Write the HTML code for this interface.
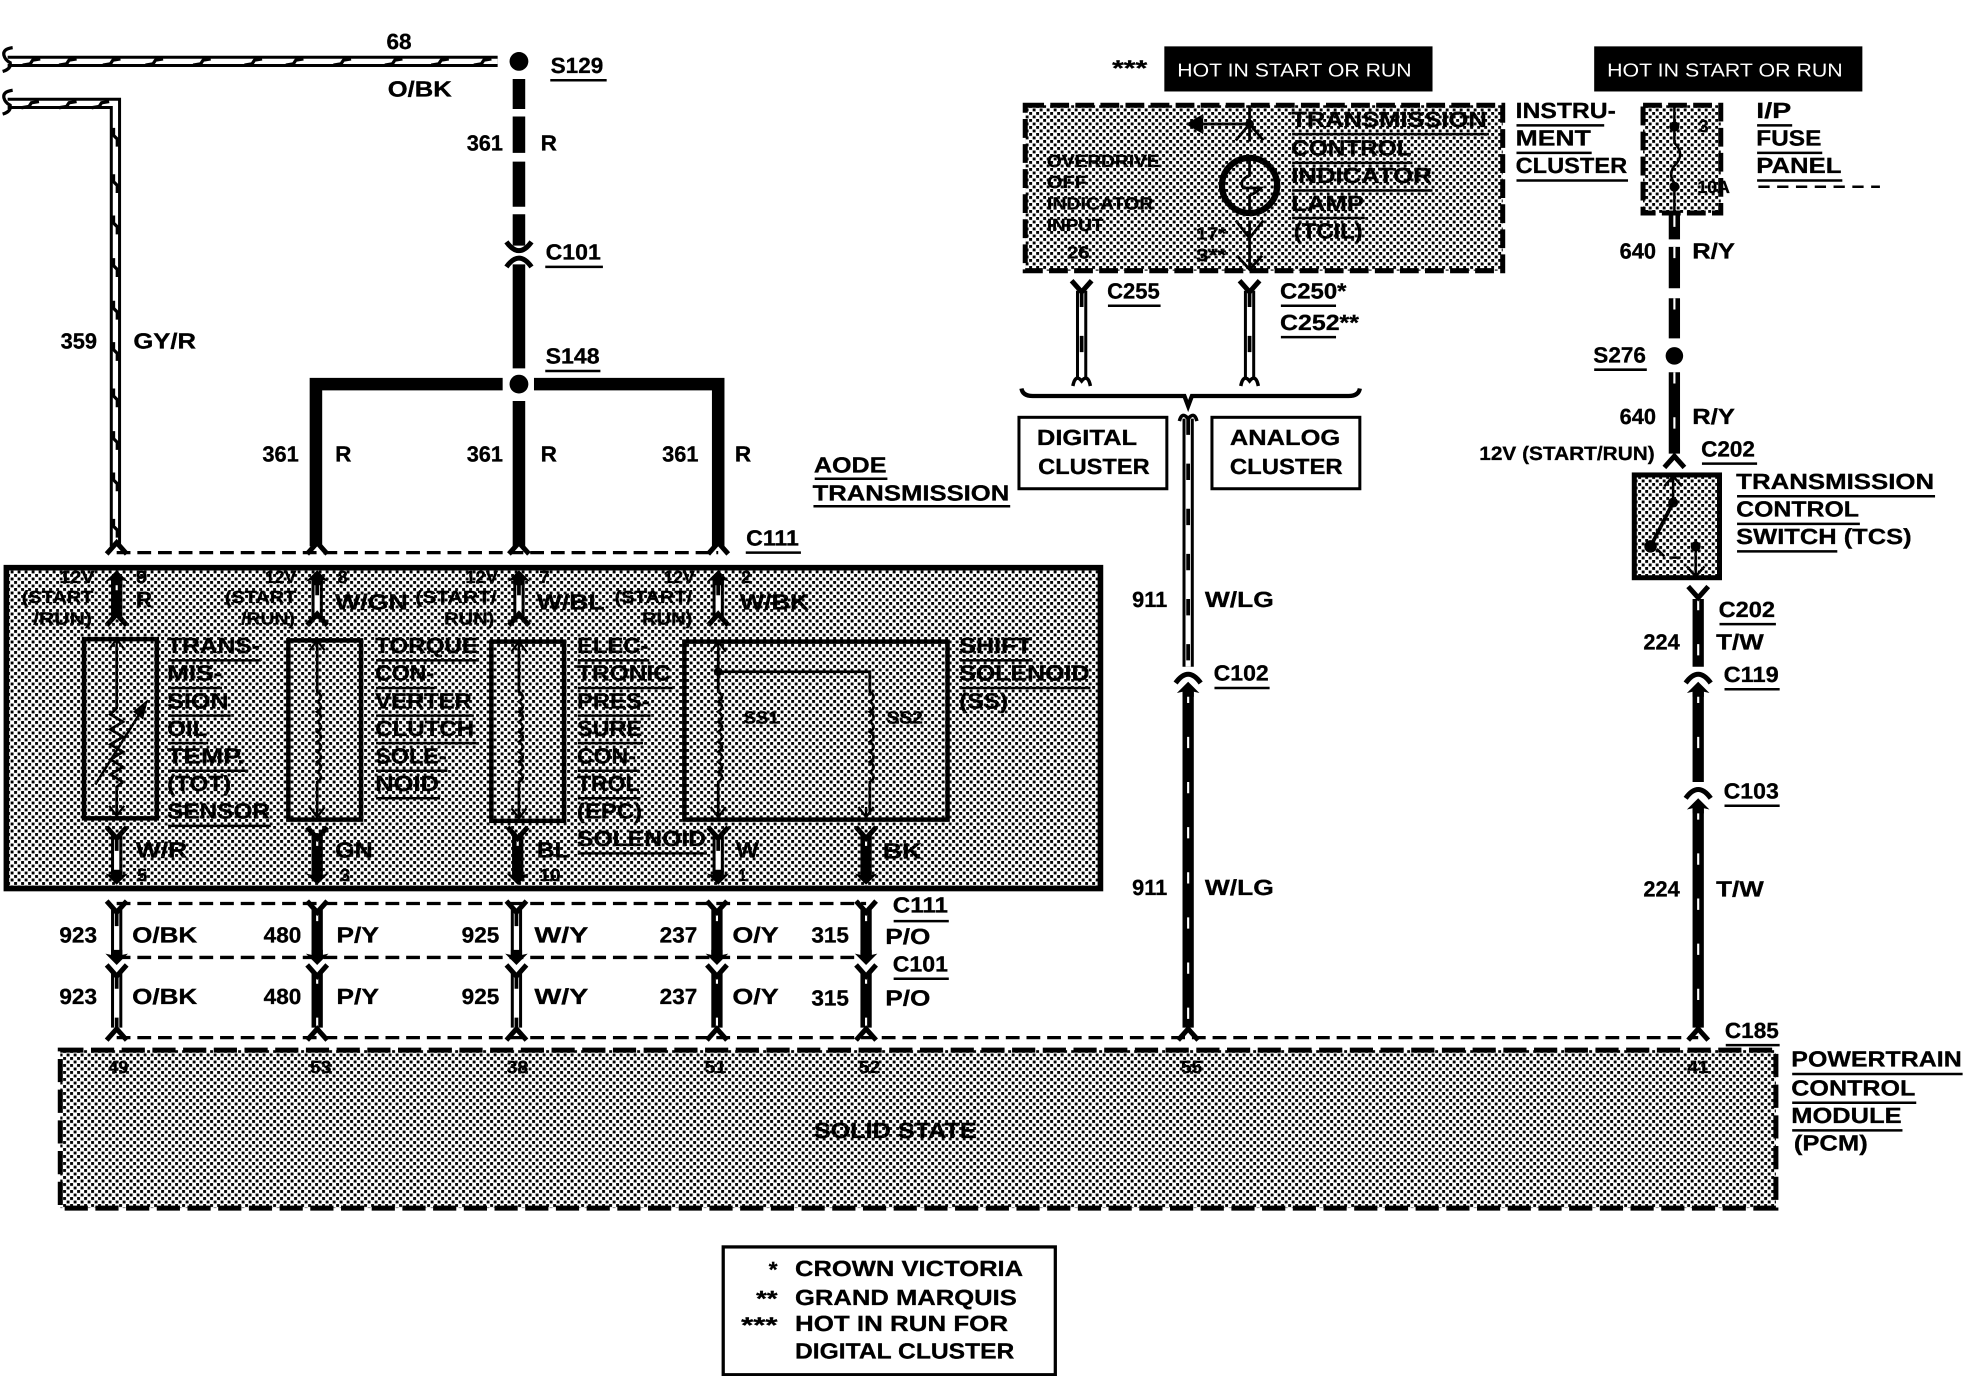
<!DOCTYPE html>
<html><head><meta charset="utf-8"><style>
html,body{margin:0;padding:0;background:#fff}
svg{display:block}
text{font-family:"Liberation Sans",sans-serif;font-weight:700;font-size:17.5px;fill:#000;stroke:#000;stroke-width:.25;transform:translate(-.7px,-.8px)}
.s{font-size:14px}
.m{font-size:15.5px}
.n{font-weight:400;font-size:15px;fill:#fff;stroke:none}
.l{fill:none;stroke:#000;stroke-width:2}
.c{fill:none;stroke:#000;stroke-width:2.2}
.b{fill:none;stroke:#000}
.o{fill:none;stroke:#000;stroke-width:9}
.i{fill:none;stroke:#fff;stroke-width:4.2}
.t{fill:none;stroke:#000;stroke-width:3;stroke-dasharray:13 23}
.k{fill:none;stroke:#000;stroke-width:9}
.w{fill:none;stroke:#fff;stroke-width:1.7;stroke-dasharray:9 27}
</style></head><body>
<svg xmlns="http://www.w3.org/2000/svg" width="1964" height="1376" viewBox="0 0 1567 1098" text-rendering="geometricPrecision">
<defs>
<pattern id="st" patternUnits="userSpaceOnUse" width="7" height="7" patternTransform="scale(0.798)">
<rect width="7" height="7" fill="#fff"/><rect x="0" y="0" width="2.9" height="2.9" fill="#000"/><rect x="3.5" y="3.5" width="2.9" height="2.9" fill="#000"/>
</pattern>
<path id="fd" d="M-8,8 L0,-1 L8,8" fill="none" stroke="#000" stroke-width="4"/>
<path id="fu" d="M-8,-8 L0,1 L8,-8" fill="none" stroke="#000" stroke-width="4"/>
<path id="cd" d="M-10,-5 Q0,9 10,-5" fill="none" stroke="#000" stroke-width="4"/>
<path id="cu" d="M-10,5 Q0,-9 10,5" fill="none" stroke="#000" stroke-width="4"/>
<path id="au" d="M-9,9 L0,0 L9,9 L4.500,8 L4.500,12 L-4.500,12 L-4.500,8Z" fill="#000"/>
<path id="ad" d="M-9,-9 L0,0 L9,-9 L4.500,-8 L4.500,-12 L-4.500,-12 L-4.500,-8Z" fill="#000"/>
<path id="tu" d="M-6,8 L0,0 L6,8 M0,0 V8" fill="none" stroke="#000" stroke-width="1.8"/>
<path id="td" d="M-6,-8 L0,0 L6,-8 M0,0 V-8" fill="none" stroke="#000" stroke-width="1.8"/>
<path id="longWires" d="M6 49H397 M6 82.5H92V436"/>
<path id="whiteWires" d="M253 462V492 M414 462V492 M573 462V492 M93 666V696 M573 666V696 M93 726V764 M412 726V764 M93 776V820 M412 776V820 M863 232V302 M997 232V302 M948 334V532"/>
<path id="blackTicks" d="M93 462V492 M253 666V696 M413 666V696 M691 666V696 M253 726V764 M572 726V764 M691 726V764 M253 776V820 M572 776V820 M691 776V820 M948 552V820 M1355 478V532 M1355 552V624 M1355 645V820 M1336 172V191 M1336 197V230 M1336 238V270 M1336 297V362"/>
</defs>
<rect width="1567" height="1098" fill="#fff"/>

<!-- shaded boxes -->
<rect x="5" y="453" width="873" height="256" fill="url(#st)" stroke="#000" stroke-width="4.5"/>
<rect x="48" y="838" width="1369" height="126" fill="url(#st)"/>
<rect x="48" y="838" width="1369" height="126" fill="none" stroke="#000" stroke-width="4" stroke-dasharray="18.5 6"/>
<rect x="818" y="84" width="381" height="132" fill="url(#st)"/>
<rect x="818" y="84" width="381" height="132" fill="none" stroke="#000" stroke-width="4" stroke-dasharray="15 5"/>
<rect x="1311" y="84" width="62" height="86" fill="url(#st)"/>
<rect x="1311" y="84" width="62" height="86" fill="none" stroke="#000" stroke-width="4" stroke-dasharray="15 5"/>
<rect x="1304" y="379" width="68" height="82" fill="url(#st)" stroke="#000" stroke-width="4"/>

<!-- inner component boxes -->
<g class="b" stroke-width="3.6">
<rect x="67" y="510" width="58" height="143"/>
<rect x="230" y="511" width="58" height="143"/>
<rect x="392" y="512" width="58" height="143"/>
<rect x="546" y="512" width="210" height="142"/>
</g>

<!-- plain boxes -->
<rect x="813" y="333" width="118" height="57" fill="#fff" stroke="#000" stroke-width="2.4"/>
<rect x="967" y="333" width="118" height="57" fill="#fff" stroke="#000" stroke-width="2.4"/>
<rect x="577" y="995" width="265" height="102" fill="#fff" stroke="#000" stroke-width="2.6"/>
<rect x="929" y="37" width="214" height="36" fill="#000"/>
<rect x="1272" y="37" width="214" height="36" fill="#000"/>

<!-- white / striped wires -->
<use href="#longWires" class="o"/>
<use href="#longWires" class="i"/>
<path class="b" stroke-width="2.6" d="M18 52l6 -1 2 -3 6 -1 M47 52l6 -1 2 -3 6 -1 M82 52l6 -1 2 -3 6 -1 M116 52l6 -1 2 -3 6 -1 M154 52l6 -1 2 -3 6 -1 M195 52l6 -1 2 -3 6 -1 M228 52l6 -1 2 -3 6 -1 M266 52l6 -1 2 -3 6 -1 M307 52l6 -1 2 -3 6 -1 M344 52l6 -1 2 -3 6 -1 M378 52l6 -1 2 -3 6 -1
M17 86l6 -1 2 -3 6 -1 M47 86l6 -1 2 -3 6 -1 M73 86l6 -1 2 -3 6 -1
M90.500 102l0 6 3 3 0 6 M90.500 139l0 6 3 3 0 6 M90.500 172l0 6 3 3 0 6 M90.500 206l0 6 3 3 0 6 M90.500 240l0 6 3 3 0 6 M90.500 273l0 6 3 3 0 6 M90.500 310l0 6 3 3 0 6 M90.500 344l0 6 3 3 0 6 M90.500 377l0 6 3 3 0 6 M90.500 414l0 6 3 3 0 6"/>
<use href="#whiteWires" class="o"/>
<use href="#whiteWires" class="i"/>
<use href="#whiteWires" class="t"/>
<!-- black wires with white ticks -->
<use href="#blackTicks" class="k"/>
<use href="#blackTicks" class="w"/>

<!-- red power wire -->
<path class="k" style="stroke-width:10" d="M414 63V87 M414 93V122 M414 129V165 M414 171V196 M414 211V294 M414 320V436"/>
<path class="k" style="stroke-width:10" d="M401 306.500H252V436 M426 306.500H573V436"/>
<circle cx="414" cy="49" r="7.500"/>
<circle cx="414" cy="306.500" r="7.500"/>
<circle cx="1336" cy="284" r="7"/>
<use href="#cd" x="414" y="198"/><use href="#cu" x="414" y="208"/>

<!-- squiggle wire ends -->
<path class="b" stroke-width="2.6" d="M10 38Q2 39 3 44Q4 48 8 50Q9 55 2 57 M10 72Q2 73 3 78Q4 82 8 84Q9 89 2 91"/>

<!-- dashed connector lines -->
<g class="b" stroke-width="2.6" stroke-dasharray="11 5.500">
<path d="M93 441H573"/>
<path d="M93 721H691"/>
<path d="M93 764H691"/>
<path d="M93 828H1355"/>
</g>

<!-- connector flares -->
<use href="#fd" x="93" y="434"/><use href="#fd" x="253" y="434"/><use href="#fd" x="414" y="434"/><use href="#fd" x="573" y="434"/>
<use href="#au" x="93" y="455"/><use href="#au" x="253" y="455"/><use href="#au" x="414" y="455"/><use href="#au" x="573" y="455"/>
<use href="#fd" x="93" y="491"/><use href="#fd" x="253" y="491"/><use href="#fd" x="414" y="491"/><use href="#fd" x="573" y="491"/>
<use href="#fu" x="93" y="668"/><use href="#fu" x="253" y="668"/><use href="#fu" x="413" y="668"/><use href="#fu" x="573" y="668"/><use href="#fu" x="691" y="668"/>
<use href="#ad" x="93" y="706"/><use href="#ad" x="253" y="706"/><use href="#ad" x="413" y="706"/><use href="#ad" x="573" y="706"/><use href="#ad" x="691" y="706"/>
<use href="#fu" x="93" y="727"/><use href="#fu" x="253" y="727"/><use href="#fu" x="412" y="727"/><use href="#fu" x="572" y="727"/><use href="#fu" x="691" y="727"/>
<use href="#ad" x="93" y="770"/><use href="#ad" x="253" y="770"/><use href="#ad" x="412" y="770"/><use href="#ad" x="572" y="770"/><use href="#ad" x="691" y="770"/>
<use href="#fu" x="93" y="778"/><use href="#fu" x="253" y="778"/><use href="#fu" x="412" y="778"/><use href="#fu" x="572" y="778"/><use href="#fu" x="691" y="778"/>
<use href="#fd" x="93" y="822"/><use href="#fd" x="253" y="822"/><use href="#fd" x="412" y="822"/><use href="#fd" x="572" y="822"/><use href="#fd" x="691" y="822"/><use href="#fd" x="948" y="822"/><use href="#fd" x="1355" y="822"/>
<use href="#cu" x="948" y="540"/><use href="#au" x="948" y="544"/>
<use href="#cu" x="1355" y="540"/><use href="#au" x="1355" y="544"/>
<use href="#cu" x="1355" y="632"/><use href="#au" x="1355" y="637"/>
<use href="#fu" x="1355" y="476"/>
<use href="#fd" x="1336" y="365"/>
<use href="#fu" x="863" y="232"/><use href="#fu" x="997" y="232"/>
<path class="b" stroke-width="2.8" d="M856 308Q858 298 863 304Q868 298 870 308 M990 308Q992 298 997 304Q1002 298 1004 308 M941 336Q943 328 948 334Q953 328 955 336"/>

<!-- brace -->
<path class="b" stroke-width="3.4" d="M815 310Q816 316 824 316H945L948 324L951 316H1076Q1084 316 1085 310"/>

<!-- TOT sensor -->
<path class="c" d="M93 516V565L88 570L98 576L88 582L98 588L88 594L98 600L88 606L98 612L88 618L98 624L93 628V648"/>
<path class="l" d="M76 626L116 562"/>
<path d="M118 558L106 568L114 574Z" fill="#000"/>
<use href="#tu" x="93" y="510"/><use href="#td" x="93" y="651"/>
<!-- TCC -->
<path class="c" d="M253 516V552Q259 556 253 560Q259 564 253 568Q259 572 253 576Q259 580 253 584Q259 588 253 592Q259 596 253 600Q259 604 253 608Q259 612 253 616Q259 620 253 624V648"/>
<use href="#tu" x="253" y="511"/><use href="#td" x="253" y="652"/>
<!-- EPC -->
<path class="c" d="M414 518V552Q420 556 414 560Q420 564 414 568Q420 572 414 576Q420 580 414 584Q420 588 414 592Q420 596 414 600Q420 604 414 608Q420 612 414 616Q420 620 414 624V650"/>
<use href="#tu" x="414" y="512"/><use href="#td" x="414" y="653"/>
<!-- SS -->
<path class="c" d="M573 518V552Q579 556 573 560Q579 564 573 568Q579 572 573 576Q579 580 573 584Q579 588 573 592Q579 596 573 600Q579 604 573 608Q579 612 573 616Q579 620 573 624V650 M573 536H694V552Q700 556 694 560Q700 564 694 568Q700 572 694 576Q700 580 694 584Q700 588 694 592Q700 596 694 600Q700 604 694 608Q700 612 694 616Q700 620 694 624V650"/>
<circle cx="573" cy="536" r="3.500"/>
<use href="#tu" x="573" y="512"/><use href="#td" x="573" y="652"/><use href="#td" x="691" y="652"/>

<!-- TCIL lamp -->
<circle cx="997" cy="148" r="22" fill="none" stroke="#000" stroke-width="5"/>
<path class="c" d="M997 84V113 M960 99H997 M986 112L997 99L1008 112 M997 126V140Q988 144 992 150H1006Q1002 154 997 156V170 M997 176V215 M986 176L997 190L1008 176 M987 204L997 215L1007 204"/>
<path d="M946 99L960 91V107Z" fill="#000"/>
<circle cx="997" cy="99" r="3.500"/>
<!-- fuse -->
<path class="l" d="M1336 84V114Q1344 122 1338 130Q1330 138 1336 146V172"/>
<circle cx="1336" cy="101" r="4"/><circle cx="1336" cy="149" r="4"/>
<!-- TCS -->
<path class="l" d="M1335 380V401 M1328 388L1335 380L1342 388 M1353 436V459 M1346 452L1353 460L1360 452"/>
<path class="b" stroke-width="3" d="M1335 401L1317 436"/>
<path class="l" d="M1322 438L1328 444 M1332 445H1341"/>
<circle cx="1335" cy="401" r="4"/><circle cx="1317" cy="436" r="5"/><circle cx="1353" cy="436" r="4"/>

<!-- underlines -->
<path class="l" d="M439 64H484 M435 213H481 M435 296H479 M650 382H708 M649 404H806 M595 441H639
M134 527H208 M134 549H177 M134 571H184 M134 593H166 M134 615H198 M134 659H216
M300 527H382 M300 549H347 M300 571H378 M300 593H380 M300 615H357 M300 637H351
M461 527H518 M461 549H537 M461 571H519 M461 593H513 M461 615H510 M461 637H511 M461 681H564
M766 527H824 M766 549H870
M713 735H757 M713 781H757 M1377 834H1420
M1430 857H1566 M1430 880H1529 M1430 902H1518
M1031 107H1188 M1031 130H1127 M1031 152H1143 M1031 174H1089
M1210 100H1280 M1210 122H1270 M1210 144H1299
M1402 100H1430 M1402 122H1454 M1402 144H1470
M884 244H926 M1022 244H1066 M1022 269H1066
M1272 295H1314 M1358 370H1402
M1386 396H1544 M1386 418H1484 M1386 440H1466
M969 549H1013 M1372 498H1417 M1376 550H1420 M1376 643H1420"/>
<path class="l" stroke-dasharray="9 6" d="M1403 149H1500"/>

<!-- text: top left -->
<text x="309" y="40" textLength="20" lengthAdjust="spacingAndGlyphs">68</text>
<text x="310" y="78" textLength="51" lengthAdjust="spacingAndGlyphs">O/BK</text>
<text x="440" y="59" textLength="42" lengthAdjust="spacingAndGlyphs">S129</text>
<text x="373" y="121" textLength="29" lengthAdjust="spacingAndGlyphs">361</text>
<text x="432" y="121" textLength="13" lengthAdjust="spacingAndGlyphs">R</text>
<text x="436" y="208" textLength="44" lengthAdjust="spacingAndGlyphs">C101</text>
<text x="436" y="291" textLength="43" lengthAdjust="spacingAndGlyphs">S148</text>
<text x="49" y="279" textLength="29" lengthAdjust="spacingAndGlyphs">359</text>
<text x="107" y="279" textLength="50" lengthAdjust="spacingAndGlyphs">GY/R</text>
<text x="210" y="369" textLength="29" lengthAdjust="spacingAndGlyphs">361</text>
<text x="268" y="369" textLength="13" lengthAdjust="spacingAndGlyphs">R</text>
<text x="373" y="369" textLength="29" lengthAdjust="spacingAndGlyphs">361</text>
<text x="432" y="369" textLength="13" lengthAdjust="spacingAndGlyphs">R</text>
<text x="529" y="369" textLength="29" lengthAdjust="spacingAndGlyphs">361</text>
<text x="587" y="369" textLength="13" lengthAdjust="spacingAndGlyphs">R</text>
<text x="650" y="378" textLength="58" lengthAdjust="spacingAndGlyphs">AODE</text>
<text x="649" y="400" textLength="157" lengthAdjust="spacingAndGlyphs">TRANSMISSION</text>
<text x="596" y="436" textLength="42" lengthAdjust="spacingAndGlyphs">C111</text>

<!-- main box top labels -->
<g class="s">
<text class="s" x="48" y="466" textLength="28" lengthAdjust="spacingAndGlyphs">12V</text>
<text class="s" x="18" y="482" textLength="57" lengthAdjust="spacingAndGlyphs">(START</text>
<text class="s" x="27" y="499" textLength="47" lengthAdjust="spacingAndGlyphs">/RUN)</text>
<text class="s" x="109" y="466" textLength="9" lengthAdjust="spacingAndGlyphs">9</text>
<text class="s" x="212" y="466" textLength="25" lengthAdjust="spacingAndGlyphs">12V</text>
<text class="s" x="180" y="482" textLength="57" lengthAdjust="spacingAndGlyphs">(START</text>
<text class="s" x="193" y="499" textLength="43" lengthAdjust="spacingAndGlyphs">/RUN)</text>
<text class="s" x="270" y="466" textLength="8" lengthAdjust="spacingAndGlyphs">8</text>
<text class="s" x="372" y="466" textLength="26" lengthAdjust="spacingAndGlyphs">12V</text>
<text class="s" x="332" y="482" textLength="65" lengthAdjust="spacingAndGlyphs">(START/</text>
<text class="s" x="355" y="499" textLength="40" lengthAdjust="spacingAndGlyphs">RUN)</text>
<text class="s" x="431" y="466" textLength="8" lengthAdjust="spacingAndGlyphs">7</text>
<text class="s" x="530" y="466" textLength="25" lengthAdjust="spacingAndGlyphs">12V</text>
<text class="s" x="491" y="482" textLength="62" lengthAdjust="spacingAndGlyphs">(START/</text>
<text class="s" x="513" y="499" textLength="40" lengthAdjust="spacingAndGlyphs">RUN)</text>
<text class="s" x="592" y="466" textLength="8" lengthAdjust="spacingAndGlyphs">2</text>
<text class="s" x="594" y="578" textLength="28" lengthAdjust="spacingAndGlyphs">SS1</text>
<text class="s" x="708" y="578" textLength="29" lengthAdjust="spacingAndGlyphs">SS2</text>
<text class="s" x="110" y="704" textLength="8" lengthAdjust="spacingAndGlyphs">5</text>
<text class="s" x="272" y="704" textLength="8" lengthAdjust="spacingAndGlyphs">3</text>
<text class="s" x="431" y="704" textLength="17" lengthAdjust="spacingAndGlyphs">10</text>
<text class="s" x="590" y="704" textLength="6" lengthAdjust="spacingAndGlyphs">1</text>
<text class="s" x="87" y="857" textLength="16" lengthAdjust="spacingAndGlyphs">49</text>
<text class="s" x="248" y="857" textLength="17" lengthAdjust="spacingAndGlyphs">53</text>
<text class="s" x="405" y="857" textLength="17" lengthAdjust="spacingAndGlyphs">38</text>
<text class="s" x="563" y="857" textLength="17" lengthAdjust="spacingAndGlyphs">51</text>
<text class="s" x="686" y="857" textLength="17" lengthAdjust="spacingAndGlyphs">52</text>
<text class="s" x="943" y="857" textLength="17" lengthAdjust="spacingAndGlyphs">55</text>
<text class="s" x="1347" y="857" textLength="17" lengthAdjust="spacingAndGlyphs">41</text>
</g>
<text x="109" y="485" textLength="13" lengthAdjust="spacingAndGlyphs">R</text>
<text x="268" y="487" textLength="58" lengthAdjust="spacingAndGlyphs">W/GN</text>
<text x="429" y="487" textLength="54" lengthAdjust="spacingAndGlyphs">W/BL</text>
<text x="591" y="487" textLength="55" lengthAdjust="spacingAndGlyphs">W/BK</text>

<!-- component labels -->
<text x="134" y="522" textLength="74" lengthAdjust="spacingAndGlyphs">TRANS-</text>
<text x="134" y="544" textLength="44" lengthAdjust="spacingAndGlyphs">MIS-</text>
<text x="134" y="566" textLength="49" lengthAdjust="spacingAndGlyphs">SION</text>
<text x="134" y="588" textLength="32" lengthAdjust="spacingAndGlyphs">OIL</text>
<text x="134" y="610" textLength="62" lengthAdjust="spacingAndGlyphs">TEMP.</text>
<text x="134" y="632" textLength="51" lengthAdjust="spacingAndGlyphs">(TOT)</text>
<text x="134" y="654" textLength="82" lengthAdjust="spacingAndGlyphs">SENSOR</text>
<text x="300" y="522" textLength="82" lengthAdjust="spacingAndGlyphs">TORQUE</text>
<text x="300" y="544" textLength="47" lengthAdjust="spacingAndGlyphs">CON-</text>
<text x="300" y="566" textLength="77" lengthAdjust="spacingAndGlyphs">VERTER</text>
<text x="300" y="588" textLength="79" lengthAdjust="spacingAndGlyphs">CLUTCH</text>
<text x="300" y="610" textLength="57" lengthAdjust="spacingAndGlyphs">SOLE-</text>
<text x="300" y="632" textLength="51" lengthAdjust="spacingAndGlyphs">NOID</text>
<text x="461" y="522" textLength="57" lengthAdjust="spacingAndGlyphs">ELEC-</text>
<text x="461" y="544" textLength="75" lengthAdjust="spacingAndGlyphs">TRONIC</text>
<text x="461" y="566" textLength="58" lengthAdjust="spacingAndGlyphs">PRES-</text>
<text x="461" y="588" textLength="52" lengthAdjust="spacingAndGlyphs">SURE</text>
<text x="461" y="610" textLength="47" lengthAdjust="spacingAndGlyphs">CON-</text>
<text x="461" y="632" textLength="50" lengthAdjust="spacingAndGlyphs">TROL</text>
<text x="461" y="654" textLength="52" lengthAdjust="spacingAndGlyphs">(EPC)</text>
<text x="461" y="676" textLength="103" lengthAdjust="spacingAndGlyphs">SOLENOID</text>
<text x="766" y="522" textLength="58" lengthAdjust="spacingAndGlyphs">SHIFT</text>
<text x="766" y="544" textLength="104" lengthAdjust="spacingAndGlyphs">SOLENOID</text>
<text x="766" y="566" textLength="39" lengthAdjust="spacingAndGlyphs">(SS)</text>
<text x="109" y="685" textLength="41" lengthAdjust="spacingAndGlyphs">W/R</text>
<text x="268" y="685" textLength="30" lengthAdjust="spacingAndGlyphs">GN</text>
<text x="429" y="685" textLength="26" lengthAdjust="spacingAndGlyphs">BL</text>
<text x="588" y="685" textLength="18" lengthAdjust="spacingAndGlyphs">W</text>
<text x="705" y="686" textLength="31" lengthAdjust="spacingAndGlyphs">BK</text>

<!-- rows -->
<text x="48" y="753" textLength="30" lengthAdjust="spacingAndGlyphs">923</text>
<text x="106" y="753" textLength="52" lengthAdjust="spacingAndGlyphs">O/BK</text>
<text x="211" y="753" textLength="30" lengthAdjust="spacingAndGlyphs">480</text>
<text x="269" y="753" textLength="34" lengthAdjust="spacingAndGlyphs">P/Y</text>
<text x="369" y="753" textLength="30" lengthAdjust="spacingAndGlyphs">925</text>
<text x="427" y="753" textLength="43" lengthAdjust="spacingAndGlyphs">W/Y</text>
<text x="527" y="753" textLength="30" lengthAdjust="spacingAndGlyphs">237</text>
<text x="585" y="753" textLength="37" lengthAdjust="spacingAndGlyphs">O/Y</text>
<text x="648" y="753" textLength="30" lengthAdjust="spacingAndGlyphs">315</text>
<text x="707" y="754" textLength="36" lengthAdjust="spacingAndGlyphs">P/O</text>
<text x="713" y="729" textLength="44" lengthAdjust="spacingAndGlyphs">C111</text>
<text x="713" y="776" textLength="44" lengthAdjust="spacingAndGlyphs">C101</text>
<text x="48" y="802" textLength="30" lengthAdjust="spacingAndGlyphs">923</text>
<text x="106" y="802" textLength="52" lengthAdjust="spacingAndGlyphs">O/BK</text>
<text x="211" y="802" textLength="30" lengthAdjust="spacingAndGlyphs">480</text>
<text x="269" y="802" textLength="34" lengthAdjust="spacingAndGlyphs">P/Y</text>
<text x="369" y="802" textLength="30" lengthAdjust="spacingAndGlyphs">925</text>
<text x="427" y="802" textLength="43" lengthAdjust="spacingAndGlyphs">W/Y</text>
<text x="527" y="802" textLength="30" lengthAdjust="spacingAndGlyphs">237</text>
<text x="585" y="802" textLength="37" lengthAdjust="spacingAndGlyphs">O/Y</text>
<text x="648" y="803" textLength="30" lengthAdjust="spacingAndGlyphs">315</text>
<text x="707" y="803" textLength="36" lengthAdjust="spacingAndGlyphs">P/O</text>

<!-- PCM -->
<text x="650" y="909" textLength="130" lengthAdjust="spacingAndGlyphs">SOLID STATE</text>
<text x="1430" y="852" textLength="136" lengthAdjust="spacingAndGlyphs">POWERTRAIN</text>
<text x="1430" y="875" textLength="99" lengthAdjust="spacingAndGlyphs">CONTROL</text>
<text x="1430" y="897" textLength="88" lengthAdjust="spacingAndGlyphs">MODULE</text>
<text x="1432" y="919" textLength="59" lengthAdjust="spacingAndGlyphs">(PCM)</text>
<text x="1377" y="829" textLength="43" lengthAdjust="spacingAndGlyphs">C185</text>

<!-- legend -->
<text x="614" y="1020" textLength="7" lengthAdjust="spacingAndGlyphs">*</text>
<text x="604" y="1043" textLength="17" lengthAdjust="spacingAndGlyphs">**</text>
<text x="592" y="1064" textLength="29" lengthAdjust="spacingAndGlyphs">***</text>
<text x="635" y="1019" textLength="182" lengthAdjust="spacingAndGlyphs">CROWN VICTORIA</text>
<text x="635" y="1042" textLength="177" lengthAdjust="spacingAndGlyphs">GRAND MARQUIS</text>
<text x="635" y="1063" textLength="170" lengthAdjust="spacingAndGlyphs">HOT IN RUN FOR</text>
<text x="635" y="1085" textLength="175" lengthAdjust="spacingAndGlyphs">DIGITAL CLUSTER</text>

<!-- top right -->
<text x="888" y="61" textLength="28" lengthAdjust="spacingAndGlyphs">***</text>
<text class="n" x="940" y="62" textLength="187" lengthAdjust="spacingAndGlyphs">HOT IN START OR RUN</text>
<text class="n" x="1283" y="62" textLength="188" lengthAdjust="spacingAndGlyphs">HOT IN START OR RUN</text>
<text x="1031" y="102" textLength="156" lengthAdjust="spacingAndGlyphs">TRANSMISSION</text>
<text x="1031" y="125" textLength="96" lengthAdjust="spacingAndGlyphs">CONTROL</text>
<text x="1031" y="147" textLength="112" lengthAdjust="spacingAndGlyphs">INDICATOR</text>
<text x="1031" y="169" textLength="58" lengthAdjust="spacingAndGlyphs">LAMP</text>
<text x="1033" y="191" textLength="55" lengthAdjust="spacingAndGlyphs">(TCIL)</text>
<text class="s" x="836" y="134" textLength="90" lengthAdjust="spacingAndGlyphs">OVERDRIVE</text>
<text class="s" x="836" y="151" textLength="32" lengthAdjust="spacingAndGlyphs">OFF</text>
<text class="s" x="836" y="168" textLength="85" lengthAdjust="spacingAndGlyphs">INDICATOR</text>
<text class="s" x="836" y="185" textLength="45" lengthAdjust="spacingAndGlyphs">INPUT</text>
<text class="s" x="852" y="207" textLength="18" lengthAdjust="spacingAndGlyphs">26</text>
<text class="s" x="955" y="192" textLength="24" lengthAdjust="spacingAndGlyphs">17*</text>
<text class="s" x="955" y="209" textLength="24" lengthAdjust="spacingAndGlyphs">3**</text>
<text x="1210" y="95" textLength="80" lengthAdjust="spacingAndGlyphs">INSTRU-</text>
<text x="1210" y="117" textLength="60" lengthAdjust="spacingAndGlyphs">MENT</text>
<text x="1210" y="139" textLength="89" lengthAdjust="spacingAndGlyphs">CLUSTER</text>
<text x="1402" y="95" textLength="28" lengthAdjust="spacingAndGlyphs">I/P</text>
<text x="1402" y="117" textLength="52" lengthAdjust="spacingAndGlyphs">FUSE</text>
<text x="1402" y="139" textLength="68" lengthAdjust="spacingAndGlyphs">PANEL</text>
<text class="s" x="1356" y="106" textLength="8" lengthAdjust="spacingAndGlyphs">3</text>
<text class="s" x="1355" y="155" textLength="26" lengthAdjust="spacingAndGlyphs">10A</text>
<text x="884" y="239" textLength="42" lengthAdjust="spacingAndGlyphs">C255</text>
<text x="1022" y="239" textLength="53" lengthAdjust="spacingAndGlyphs">C250*</text>
<text x="1022" y="264" textLength="63" lengthAdjust="spacingAndGlyphs">C252**</text>
<text x="828" y="356" textLength="80" lengthAdjust="spacingAndGlyphs">DIGITAL</text>
<text x="829" y="379" textLength="89" lengthAdjust="spacingAndGlyphs">CLUSTER</text>
<text x="982" y="356" textLength="88" lengthAdjust="spacingAndGlyphs">ANALOG</text>
<text x="982" y="379" textLength="90" lengthAdjust="spacingAndGlyphs">CLUSTER</text>
<text x="1293" y="207" textLength="29" lengthAdjust="spacingAndGlyphs">640</text>
<text x="1351" y="207" textLength="34" lengthAdjust="spacingAndGlyphs">R/Y</text>
<text x="1272" y="290" textLength="42" lengthAdjust="spacingAndGlyphs">S276</text>
<text x="1293" y="339" textLength="29" lengthAdjust="spacingAndGlyphs">640</text>
<text x="1351" y="339" textLength="34" lengthAdjust="spacingAndGlyphs">R/Y</text>
<text class="m" x="1181" y="368" textLength="140" lengthAdjust="spacingAndGlyphs">12V (START/RUN)</text>
<text x="1358" y="365" textLength="43" lengthAdjust="spacingAndGlyphs">C202</text>
<text x="1386" y="391" textLength="158" lengthAdjust="spacingAndGlyphs">TRANSMISSION</text>
<text x="1386" y="413" textLength="98" lengthAdjust="spacingAndGlyphs">CONTROL</text>
<text x="1386" y="435" textLength="140" lengthAdjust="spacingAndGlyphs">SWITCH (TCS)</text>
<text x="904" y="485" textLength="28" lengthAdjust="spacingAndGlyphs">911</text>
<text x="962" y="485" textLength="55" lengthAdjust="spacingAndGlyphs">W/LG</text>
<text x="969" y="544" textLength="44" lengthAdjust="spacingAndGlyphs">C102</text>
<text x="904" y="715" textLength="28" lengthAdjust="spacingAndGlyphs">911</text>
<text x="962" y="715" textLength="55" lengthAdjust="spacingAndGlyphs">W/LG</text>
<text x="1372" y="493" textLength="45" lengthAdjust="spacingAndGlyphs">C202</text>
<text x="1312" y="519" textLength="29" lengthAdjust="spacingAndGlyphs">224</text>
<text x="1370" y="519" textLength="38" lengthAdjust="spacingAndGlyphs">T/W</text>
<text x="1376" y="545" textLength="44" lengthAdjust="spacingAndGlyphs">C119</text>
<text x="1376" y="638" textLength="44" lengthAdjust="spacingAndGlyphs">C103</text>
<text x="1312" y="716" textLength="29" lengthAdjust="spacingAndGlyphs">224</text>
<text x="1370" y="716" textLength="38" lengthAdjust="spacingAndGlyphs">T/W</text>
</svg>
</body></html>
